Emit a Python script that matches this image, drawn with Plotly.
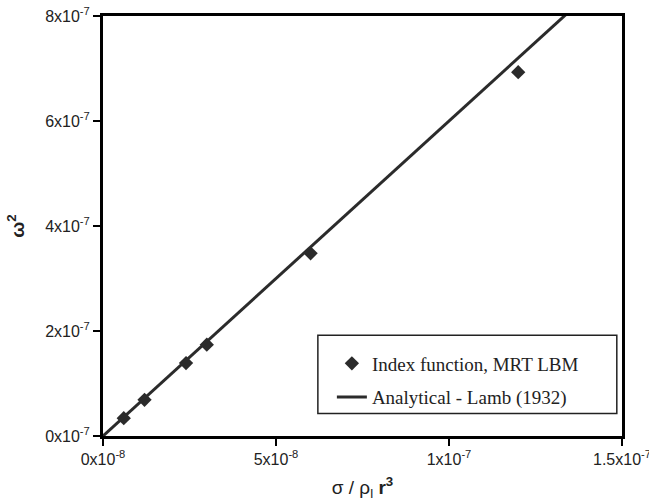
import plotly.graph_objects as go

# Data
x_lbm = [6.0e-9, 1.2e-8, 2.4e-8, 3.0e-8, 6.0e-8, 1.2e-7]
y_lbm = [3.4e-8, 6.9e-8, 1.39e-7, 1.74e-7, 3.48e-7, 6.93e-7]
x_lamb = [0.0, 1.5e-7]
y_lamb = [0.0, 9.0e-7]

x_tickvals = [0, 5e-8, 1e-7, 1.5e-7]
x_ticktext = ["0x10<sup>-8</sup>", "5x10<sup>-8</sup>", "1x10<sup>-7</sup>", "1.5x10<sup>-7</sup>"]
y_tickvals = [0, 2e-7, 4e-7, 6e-7, 8e-7]
y_ticktext = ["0x10<sup>-7</sup>", "2x10<sup>-7</sup>", "4x10<sup>-7</sup>", "6x10<sup>-7</sup>", "8x10<sup>-7</sup>"]

fig = go.Figure()
fig.add_trace(go.Scatter(
    x=x_lbm, y=y_lbm, mode="markers", name="Index function, MRT LBM",
    marker=dict(symbol="diamond", size=11, color="#2b2b2b"),
    legendgroup="a",
))
fig.add_trace(go.Scatter(
    x=x_lamb, y=y_lamb, mode="lines", name="Analytical - Lamb (1932)",
    line=dict(color="#2b2b2b", width=3),
    legendgroup="b",
))

axis_common = dict(
    showgrid=False, zeroline=False, showline=True, linecolor="black", linewidth=3,
    mirror=True, ticks="outside", ticklen=7, tickwidth=1.5, tickcolor="black",
    automargin=False, ticklabeloverflow="allow",
    tickfont=dict(family="Liberation Sans, Arial, sans-serif", size=16, color="#222"),
)

fig.update_layout(
    width=649, height=504,
    margin=dict(l=103, r=27, t=16, b=68),
    paper_bgcolor="white", plot_bgcolor="white",
    xaxis=dict(range=[0, 1.5000001e-7], tickvals=x_tickvals, ticktext=x_ticktext,
               title=dict(text="σ / ρ<sub>l</sub> <b>r<sup>3</sup></b>", standoff=14,
                          font=dict(family="Liberation Sans, Arial, sans-serif", size=19, color="#222")),
               **axis_common),
    yaxis=dict(range=[0, 8.000001e-7], tickvals=y_tickvals, ticktext=y_ticktext,
               title=dict(text="<b>ω<sup>2</sup></b>", standoff=16,
                          font=dict(family="Liberation Sans, Arial, sans-serif", size=19, color="#222")),
               **axis_common),
    showlegend=True,
    legend=dict(
        x=0.441, y=0.218, xanchor="left", yanchor="top",
        borderwidth=0, bgcolor="rgba(0,0,0,0)",
        font=dict(family="Liberation Serif, Times New Roman, serif", size=19, color="#222"),
        traceorder="grouped", tracegroupgap=6,
    ),
    shapes=[dict(type="rect", xref="paper", yref="paper",
                 x0=0.414, x1=0.990, y0=0.0537, y1=0.240,
                 line=dict(color="#222", width=1.5), fillcolor="white", layer="below")],
)

fig.write_html("out.html")
